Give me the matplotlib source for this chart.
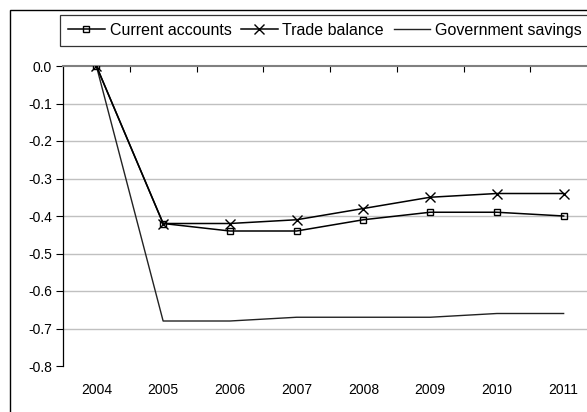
import matplotlib
matplotlib.use("Agg")
import matplotlib.pyplot as plt
from matplotlib.patches import Rectangle
from matplotlib.lines import Line2D
from matplotlib.ticker import FixedLocator, FormatStrFormatter

plt.rcParams['font.family'] = ['Liberation Sans', 'DejaVu Sans']
plt.rcParams['axes.unicode_minus'] = False

years = ['2004', '2005', '2006', '2007', '2008', '2009', '2010', '2011']
current_accounts = [0.0, -0.42, -0.44, -0.44, -0.41, -0.39, -0.39, -0.40]
trade_balance = [0.0, -0.42, -0.42, -0.41, -0.38, -0.35, -0.34, -0.34]
government_savings = [0.0, -0.68, -0.68, -0.67, -0.67, -0.67, -0.66, -0.66]
y_ticks = [0.0, -0.1, -0.2, -0.3, -0.4, -0.5, -0.6, -0.7, -0.8]

W, H = 587, 412
fig = plt.figure(figsize=(W / 100, H / 100), dpi=100)

def fx(px):
    return px / W

def fy(py):
    return 1 - py / H

ax = fig.add_axes([fx(63), fy(366), fx(597) - fx(63), fy(66) - fy(366)])
x = list(range(len(years)))

ax.plot(x, government_savings, color='#222222', lw=1.0, label='Government savings', zorder=3)
ax.plot(x, trade_balance, color='black', lw=1.1, marker='x', ms=6.5, mew=1.0, label='Trade balance', zorder=4)
ax.plot(x, current_accounts, color='black', lw=1.1, marker='s', ms=5, mew=1.0, mfc='none', label='Current accounts', zorder=5)

ax.set_xlim(-0.5, len(years) - 0.5)
ax.set_ylim(-0.8, 0.0)

ax.set_yticks(y_ticks)
ax.yaxis.set_major_formatter(FormatStrFormatter('%.1f'))
ax.tick_params(axis='y', direction='out', length=5, width=0.8, pad=3, labelsize=10, colors='black')

ax.set_xticks(x)
ax.set_xticklabels(years)
ax.xaxis.set_minor_locator(FixedLocator([i + 0.5 for i in range(len(years) - 1)]))
ax.tick_params(axis='x', which='major', length=0, pad=12, labelsize=10)
ax.tick_params(axis='x', which='minor', top=True, bottom=False, direction='in', length=4, width=0.8, color='black')

ax.grid(axis='y', color='#c0c0c0', lw=1.0)
for val, gl in zip(y_ticks, ax.yaxis.get_gridlines()):
    if val in (0.0, -0.8):
        gl.set_visible(False)
ax.set_axisbelow(True)

ax.spines['bottom'].set_visible(False)
ax.spines['right'].set_visible(False)
ax.spines['top'].set_color('#808080')
ax.spines['top'].set_linewidth(1.5)
ax.spines['left'].set_color('black')
ax.spines['left'].set_linewidth(0.9)

# legend
handles = [
    Line2D([], [], color='black', lw=1.1, marker='s', ms=5, mfc='none', mew=1.0),
    Line2D([], [], color='black', lw=1.1, marker='x', ms=6.5, mew=1.0),
    Line2D([], [], color='#222222', lw=1.0),
]
labels = ['Current accounts', 'Trade balance', 'Government savings']
leg = fig.legend(handles, labels, ncol=3, loc='upper left',
                 bbox_to_anchor=(fx(60), fy(15)), fontsize=11.5,
                 frameon=True, fancybox=False, edgecolor='black',
                 borderpad=0.5, handlelength=2.3, handletextpad=0.3,
                 columnspacing=0.6, borderaxespad=0)
leg.get_frame().set_linewidth(0.9)

# outer frame
fig.patches.append(Rectangle((fx(10), fy(430)), fx(600) - fx(10), fy(10) - fy(430),
                             transform=fig.transFigure, fill=False,
                             edgecolor='black', lw=1.0, clip_on=False))

# partial caption at the very top
fig.text(fx(6), fy(-8), '(', fontsize=16, family='Liberation Serif', va='baseline', ha='left')
fig.text(fx(172), fy(-8), ') pp', fontsize=16, family='Liberation Serif', va='baseline', ha='left')

fig.savefig('out.png', dpi=100)
